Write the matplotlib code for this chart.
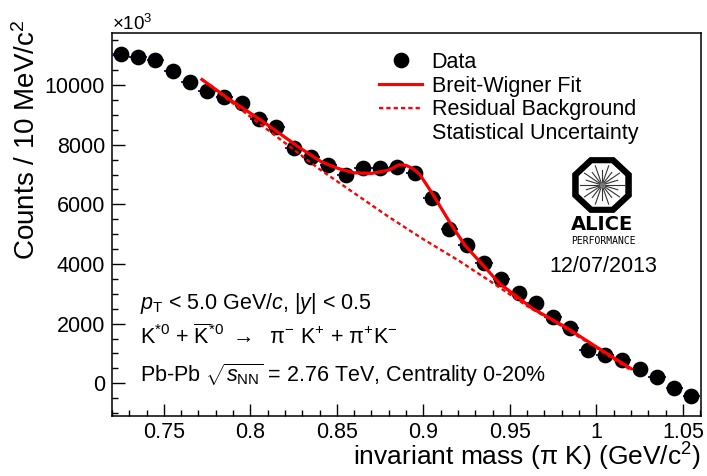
import numpy as np
import matplotlib
matplotlib.use("Agg")
import matplotlib.pyplot as plt
from matplotlib.lines import Line2D
from matplotlib.patches import Patch, RegularPolygon
from matplotlib.ticker import MultipleLocator

# ── Style ────────────────────────────────────────────────
plt.rcParams["font.family"] = ["Liberation Sans", "DejaVu Sans"]
plt.rcParams["mathtext.fontset"] = "custom"
plt.rcParams["mathtext.rm"] = "Liberation Sans"
plt.rcParams["mathtext.it"] = "Liberation Sans:italic"
plt.rcParams["mathtext.bf"] = "Liberation Sans:bold"
FS = 15.5       # tick labels, legend, annotations
TITLE_FS = 19   # axis titles

# ── Data: K*0 invariant-mass spectrum (Pb-Pb, 0-20%) ─────
mass = [0.725, 0.735, 0.745, 0.755, 0.765, 0.775, 0.785, 0.795, 0.805, 0.815,
        0.825, 0.835, 0.845, 0.855, 0.865, 0.875, 0.885, 0.895, 0.905, 0.915,
        0.925, 0.935, 0.945, 0.955, 0.965, 0.975, 0.985, 0.995, 1.005, 1.015,
        1.025, 1.035, 1.045, 1.055]
counts = [11030, 10930, 10840, 10470, 10090, 9800, 9600, 9405, 8880, 8595,
          7876, 7580, 7310, 6990, 7210, 7205, 7270, 7050, 6210, 5180,
          4630, 4037, 3480, 3010, 2675, 2205, 1845, 1107, 940, 772,
          470, 211, -158, -426]
bin_half = 0.005

# Breit-Wigner + background fit
fit_mass = [0.772, 0.787, 0.806, 0.829, 0.841, 0.851, 0.860, 0.870, 0.880,
            0.886, 0.890, 0.894, 0.898, 0.905, 0.916, 0.924, 0.944, 0.963,
            0.982, 1.000, 1.020]
fit_counts = [10190, 9560, 8830, 7880, 7430, 7200, 7060, 7040, 7150,
              7330, 7310, 7200, 7000, 6380, 5330, 4630, 3350, 2510,
              1890, 1220, 490]

# residual background
bkg_mass = [0.772, 0.800, 0.820, 0.840, 0.860, 0.880, 0.900, 0.920, 0.940,
            0.960, 0.980, 1.000, 1.020]
bkg_counts = [10190, 8940, 8060, 7180, 6380, 5580, 4830, 4130, 3370,
              2590, 1920, 1190, 436]

# ── Figure ───────────────────────────────────────────────
fig = plt.figure(figsize=(7.07, 4.76), dpi=100)
ax = fig.add_axes([112 / 707, 1 - 416 / 476, 589 / 707, 383 / 476])

ax.errorbar(mass, counts, xerr=bin_half, fmt="o", color="black",
            ecolor="#1c1c8a", elinewidth=1.4, markersize=10.3, zorder=3)
ax.plot(fit_mass, fit_counts, color="red", lw=2.3, zorder=5)
ax.plot(bkg_mass, bkg_counts, color="red", lw=1.7, ls=(0, (1.8, 1.3)), zorder=4)

ax.set_xlim(0.72, 1.0605)
ax.set_ylim(-1100, 11750)
ax.xaxis.set_major_locator(MultipleLocator(0.05))
ax.xaxis.set_minor_locator(MultipleLocator(0.01))
ax.yaxis.set_major_locator(MultipleLocator(2000))
ax.yaxis.set_minor_locator(MultipleLocator(500))
ax.xaxis.set_major_formatter(plt.FuncFormatter(lambda v, p: f"{v:g}"))
ax.tick_params(which="both", direction="in", top=False, right=False,
               labelsize=FS, width=1.0)
ax.tick_params(which="major", length=9, pad=5)
ax.tick_params(axis="x", which="major", pad=4)
ax.tick_params(which="minor", length=4.5)
for s in ax.spines.values():
    s.set_linewidth(1.1)

fig.text(112 / 707, 1 - 30 / 476, r"$\times$10$^3$", fontsize=13.5,
         ha="left", va="baseline")
fig.text(27 / 707, 1 - 20 / 476, r"Counts / 10 MeV/c$^2$", fontsize=20,
         rotation=90, ha="center", va="top")
fig.text(701 / 707, 1 - 466 / 476, r"invariant mass (π K) (GeV/c$^2$)",
         fontsize=TITLE_FS, ha="right", va="baseline")

# ── Legend ───────────────────────────────────────────────
handles = [Line2D([], [], marker="o", ls="none", color="black", markersize=10.3),
           Line2D([], [], color="red", lw=2.3),
           Line2D([], [], color="red", lw=1.7, ls=(0, (1.8, 1.3))),
           Patch(facecolor="none", edgecolor="none")]
labels = ["Data", "Breit-Wigner Fit", "Residual Background",
          "Statistical Uncertainty"]
ax.legend(handles, labels, loc="upper left", bbox_to_anchor=(379 / 707, 1 - 52 / 476),
          bbox_transform=fig.transFigure, frameon=False, fontsize=FS,
          borderpad=0, borderaxespad=0, handlelength=2.0, handletextpad=0.45,
          labelspacing=0.12)

# ── Kinematic / system labels ────────────────────────────
ax.text(0.0475, 0.295, r"$p_{\rm T}$ < 5.0 GeV/$c$, |$y$| < 0.5",
        transform=ax.transAxes, fontsize=FS, va="center")
ax.text(0.0475, 0.206,
        r"K$^{*0}$ + $\overline{\rm K}^{*0}$ $\rightarrow$  π$^{-}$ K$^{+}$ + π$^{+}$K$^{-}$",
        transform=ax.transAxes, fontsize=FS, va="center")
ax.text(0.0475, 0.107,
        r"Pb-Pb $\sqrt{s_{\rm NN}}$ = 2.76 TeV, Centrality 0-20%",
        transform=ax.transAxes, fontsize=FS, va="center")

# ── ALICE logo ───────────────────────────────────────────
lax = fig.add_axes([572 / 707, 1 - 213 / 476, 60 / 707, 56 / 476])
lax.set_xlim(-1, 1)
lax.set_ylim(-1, 1)
lax.axis("off")
lax.add_patch(RegularPolygon((0, 0), 8, radius=1.05, orientation=np.pi / 8,
                             facecolor="black", edgecolor="black"))
lax.add_patch(RegularPolygon((0, 0), 8, radius=0.84, orientation=np.pi / 8,
                             facecolor="white", edgecolor="none"))
for k, a in enumerate(np.linspace(0, 2 * np.pi, 20, endpoint=False)):
    r = 0.72 if k % 2 == 0 else 0.55
    lax.plot([0.08 * np.cos(a), r * np.cos(a)], [0.08 * np.sin(a), r * np.sin(a)],
             color="#333333", lw=0.8)
lax.plot(0, 0, "o", color="#777777", ms=3)

fig.text(602 / 707, 1 - 225 / 476, "ALICE", fontsize=14, fontweight="bold",
         family="DejaVu Sans", ha="center", va="center")
fig.text(603 / 707, 1 - 241 / 476, "PERFORMANCE", fontsize=7,
         family="DejaVu Sans Mono", ha="center", va="center")
fig.text(603 / 707, 1 - 267 / 476, "12/07/2013", fontsize=FS,
         ha="center", va="center")

fig.savefig("out.png", dpi=100)
